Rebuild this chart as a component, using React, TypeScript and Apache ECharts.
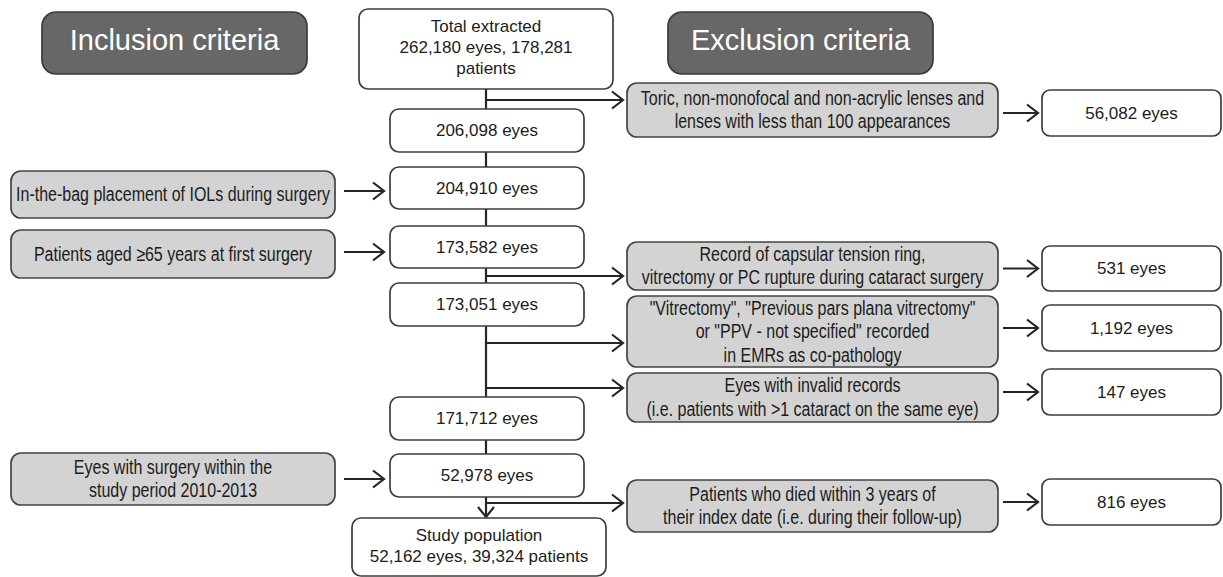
import React, { useEffect, useRef } from "react";
import * as echarts from "echarts";

// ---- content ----
const headers = ["Inclusion criteria", "Exclusion criteria"];
const mainLabels = [
  "Total extracted\n262,180 eyes, 178,281\npatients",
  "206,098 eyes",
  "204,910 eyes",
  "173,582 eyes",
  "173,051 eyes",
  "171,712 eyes",
  "52,978 eyes",
  "Study population\n52,162 eyes, 39,324 patients",
];
const inclusionLabels = [
  "In-the-bag placement of IOLs during surgery",
  "Patients aged \u226565 years at first surgery",
  "Eyes with surgery within the\nstudy period 2010-2013",
];
const exclusionLabels = [
  "Toric, non-monofocal and non-acrylic lenses and\nlenses with less than 100 appearances",
  "Record of capsular tension ring,\nvitrectomy or PC rupture during cataract surgery",
  "\"Vitrectomy\", \"Previous pars plana vitrectomy\"\nor \"PPV - not specified\" recorded\nin EMRs as co-pathology",
  "Eyes with invalid records\n(i.e. patients with >1 cataract on the same eye)",
  "Patients who died within 3 years of\ntheir index date (i.e. during their follow-up)",
];
const excludedCounts = ["56,082 eyes", "531 eyes", "1,192 eyes", "147 eyes", "816 eyes"];

// ---- layout ----
const MAIN_X = 486;
const mainBoxes: [number, number, number, number][] = [
  [359, 9, 613, 89],
  [390, 109, 584, 152],
  [390, 167, 584, 209],
  [390, 226, 584, 268],
  [390, 283, 584, 326],
  [390, 397, 584, 440],
  [390, 454, 584, 497],
  [352, 518, 606, 576],
];
const mainDy = [-2, 0, 0, 0, 0, 0, 0, -1];
const inclBoxes: [number, number, number, number][] = [
  [11, 171, 335, 218],
  [11, 230, 335, 278],
  [11, 453, 335, 505],
];
const inclArrowY = [191, 252, 479];
const exclBoxes: [number, number, number, number][] = [
  [627, 83, 998, 137],
  [627, 242, 998, 290],
  [627, 296, 998, 367],
  [627, 373, 998, 422],
  [627, 480, 998, 532],
];
const exclArrowY = [100, 276, 343, 388, 503];
const countBoxes: [number, number, number, number][] = [
  [1042, 90, 1221, 136],
  [1042, 246, 1221, 291],
  [1042, 305, 1221, 351],
  [1042, 369, 1221, 415],
  [1042, 479, 1221, 525],
];
const headerBoxes: [number, number, number, number][] = [
  [42, 12, 307, 74],
  [668, 12, 933, 74],
];

const LINE = "#262626";
const FONT = "'Liberation Sans', Arial, sans-serif";
const TXT = "#1c1c1c";

function box(b: number[], fill: string, stroke: string, r: number) {
  return {
    type: "rect",
    shape: { x: b[0], y: b[1], width: b[2] - b[0], height: b[3] - b[1], r },
    style: { fill, stroke, lineWidth: 1.7 },
  };
}
function label(b: number[], text: string, size: number, color: string, lh: number, sx = 1, dy = 0) {
  return {
    type: "text",
    x: (b[0] + b[2]) / 2,
    y: (b[1] + b[3]) / 2 + dy,
    scaleX: sx,
    style: {
      text,
      x: 0,
      y: 0,
      fill: color,
      font: `${size}px ${FONT}`,
      align: "center",
      verticalAlign: "middle",
      textAlign: "center",
      textVerticalAlign: "middle",
      lineHeight: lh,
    },
  };
}
function hArrow(x0: number, x1: number, y: number) {
  return [
    { type: "line", shape: { x1: x0, y1: y, x2: x1 - 1, y2: y }, style: { stroke: LINE, lineWidth: 2.2 } },
    {
      type: "polyline",
      shape: { points: [[x1 - 11, y - 8.5], [x1, y], [x1 - 11, y + 8.5]] },
      style: { stroke: LINE, lineWidth: 2.2, fill: null },
    },
  ];
}

export default function App() {
  const ref = useRef<HTMLDivElement>(null);
  useEffect(() => {
    document.body.style.margin = "0";
    const chart = echarts.init(ref.current!, undefined, { renderer: "svg" });
    const els: any[] = [];
    // main vertical line
    els.push({
      type: "line",
      shape: { x1: MAIN_X, y1: 89, x2: MAIN_X, y2: 516 },
      style: { stroke: LINE, lineWidth: 2.2 },
    });
    els.push({
      type: "polyline",
      shape: { points: [[MAIN_X - 8, 507], [MAIN_X, 517], [MAIN_X + 8, 507]] },
      style: { stroke: LINE, lineWidth: 2.2, fill: null },
    });
    exclArrowY.forEach((y) => els.push(...hArrow(MAIN_X, 623, y)));
    inclArrowY.forEach((y) => els.push(...hArrow(344, 384, y)));
    countBoxes.forEach((b) => {
      const y = (b[1] + b[3]) / 2;
      els.push(...hArrow(1003, 1038, y));
    });

    headerBoxes.forEach((b, i) => {
      els.push(box(b, "#676767", "#3a3a3a", 14));
      els.push(label(b, headers[i], 29, "#ffffff", 34, 1, -3));
    });
    mainBoxes.forEach((b, i) => {
      els.push(box(b, "#ffffff", "#3c3c3c", 9));
      els.push(label(b, mainLabels[i], 17, TXT, 21, 1, mainDy[i]));
    });
    inclBoxes.forEach((b, i) => {
      els.push(box(b, "#d3d3d3", "#444444", 10));
      els.push(label(b, inclusionLabels[i], 20, TXT, 23.5, 0.8));
    });
    exclBoxes.forEach((b, i) => {
      els.push(box(b, "#d3d3d3", "#444444", 10));
      els.push(label(b, exclusionLabels[i], 20, TXT, 23.5, 0.8));
    });
    countBoxes.forEach((b, i) => {
      els.push(box(b, "#ffffff", "#3c3c3c", 8));
      els.push(label(b, excludedCounts[i], 17, TXT, 20));
    });

    chart.setOption({
      animation: false,
      backgroundColor: "#ffffff",
      graphic: { elements: els },
    });
    return () => chart.dispose();
  }, []);
  return <div ref={ref} style={{ width: 1223, height: 577 }} />;
}
